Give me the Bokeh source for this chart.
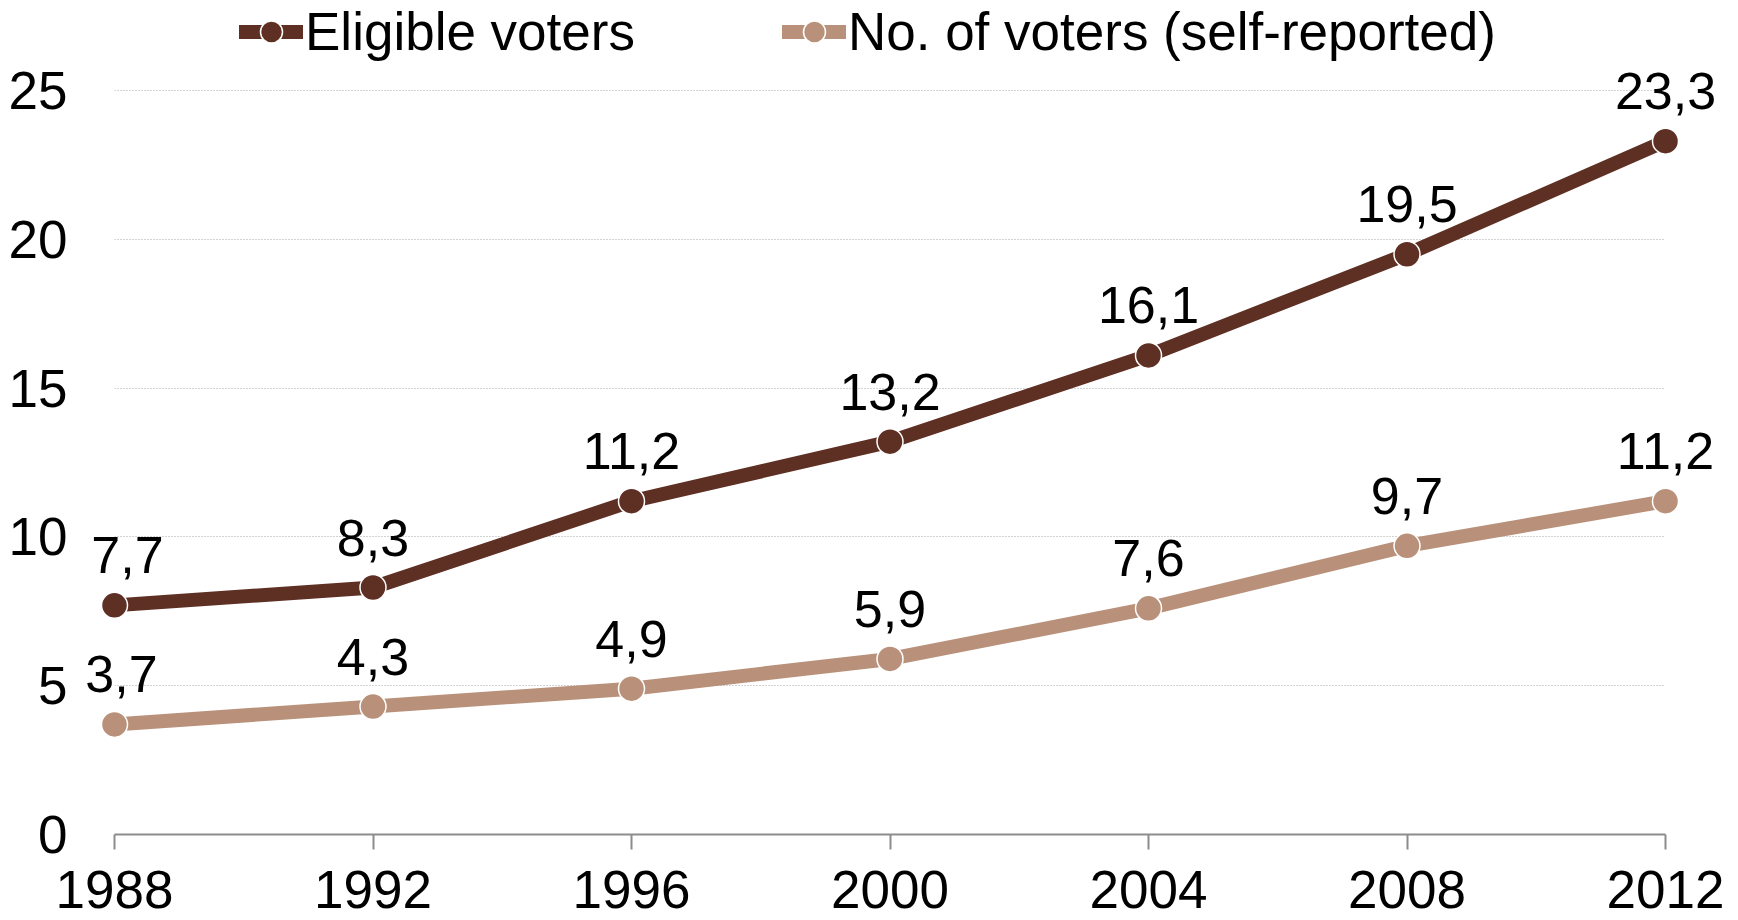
from bokeh.plotting import figure
from bokeh.models import ColumnDataSource, Legend, LegendItem, FixedTicker
from bokeh.core.properties import value
from bokeh.embed import file_html
from bokeh.resources import INLINE

years = [1988, 1992, 1996, 2000, 2004, 2008, 2012]
eligible = [7.7, 8.3, 11.2, 13.2, 16.1, 19.5, 23.3]
voters = [3.7, 4.3, 4.9, 5.9, 7.6, 9.7, 11.2]
series_names = ["Eligible voters", "No. of voters (self-reported)"]
y_ticks = [0, 5, 10, 15, 20, 25]

DARK = "#5E2F23"
LIGHT = "#B9917A"
FONT = "Liberation Sans"
FS = "53px"

# frame reaches the top of the canvas so that the legend (drawn inside the frame) is not clipped;
# the value 25 then sits 90px below the top.
Y_TOP = 25 * 833.5 / (833.5 - 90)

p = figure(width=1738, height=920, x_range=(1988, 2012), y_range=(0, Y_TOP),
           output_backend="svg", toolbar_location=None,
           min_border_left=114, min_border_right=73, min_border_top=0, min_border_bottom=86)
p.outline_line_color = None
p.background_fill_color = "white"
p.border_fill_color = "white"

# axes
p.xaxis.ticker = FixedTicker(ticks=years)
p.xaxis.minor_tick_line_color = None
p.xaxis.axis_line_color = "#8C8C8C"
p.xaxis.axis_line_width = 2
p.xaxis.major_tick_line_color = "#8C8C8C"
p.xaxis.major_tick_line_width = 2
p.xaxis.major_tick_out = 15
p.xaxis.major_tick_in = 0
p.xaxis.major_label_standoff = 21
p.xaxis.major_label_text_font = FONT
p.xaxis.major_label_text_font_size = FS
p.xaxis.major_label_text_color = "black"
p.xaxis.major_label_text_line_height = 0.7

p.yaxis.ticker = FixedTicker(ticks=y_ticks)
p.yaxis.minor_tick_line_color = None
p.yaxis.axis_line_color = None
p.yaxis.major_tick_line_color = None
p.yaxis.major_tick_out = 0
p.yaxis.major_tick_in = 0
p.yaxis.major_label_standoff = 47
p.yaxis.major_label_text_font = FONT
p.yaxis.major_label_text_font_size = FS
p.yaxis.major_label_text_color = "black"

p.xgrid.grid_line_color = None
p.ygrid.ticker = FixedTicker(ticks=y_ticks[1:])
p.ygrid.grid_line_color = "#A6A6A6"
p.ygrid.grid_line_width = 1
p.ygrid.grid_line_dash = "1 2"

def fmt(vals):
    return [f"{v:.1f}".replace(".", ",") for v in vals]

renderers = []
for vals, color, dx0 in ((eligible, DARK, 13), (voters, LIGHT, 7)):
    dx = [dx0] + [0] * (len(years) - 1)
    src = ColumnDataSource(dict(x=years, y=vals, lbl=fmt(vals), dx=dx))
    ln = p.line("x", "y", source=src, line_color=color, line_width=14,
                line_join="round", line_cap="round", level="overlay")
    sc = p.scatter("x", "y", source=src, size=26, fill_color=color,
                   line_color="white", line_width=1.5, level="overlay")
    p.text("x", "y", text="lbl", source=src, x_offset="dx", y_offset=-50,
           text_align="center", text_baseline="alphabetic",
           text_font=value(FONT), text_font_size=value("52px"),
           text_color="black", level="overlay")
    renderers.append((ln, sc))

items = [LegendItem(label=name, renderers=[ln, sc]) for name, (ln, sc) in zip(series_names, renderers)]
legend = Legend(items=items, orientation="horizontal", location=(125, 772),
                glyph_width=64, glyph_height=55, label_standoff=2, spacing=147,
                padding=0, margin=0, border_line_color=None, background_fill_alpha=0,
                label_text_font=FONT, label_text_font_size=FS, label_text_color="black")
p.add_layout(legend)

open("out.html", "w").write(file_html(p, INLINE))
